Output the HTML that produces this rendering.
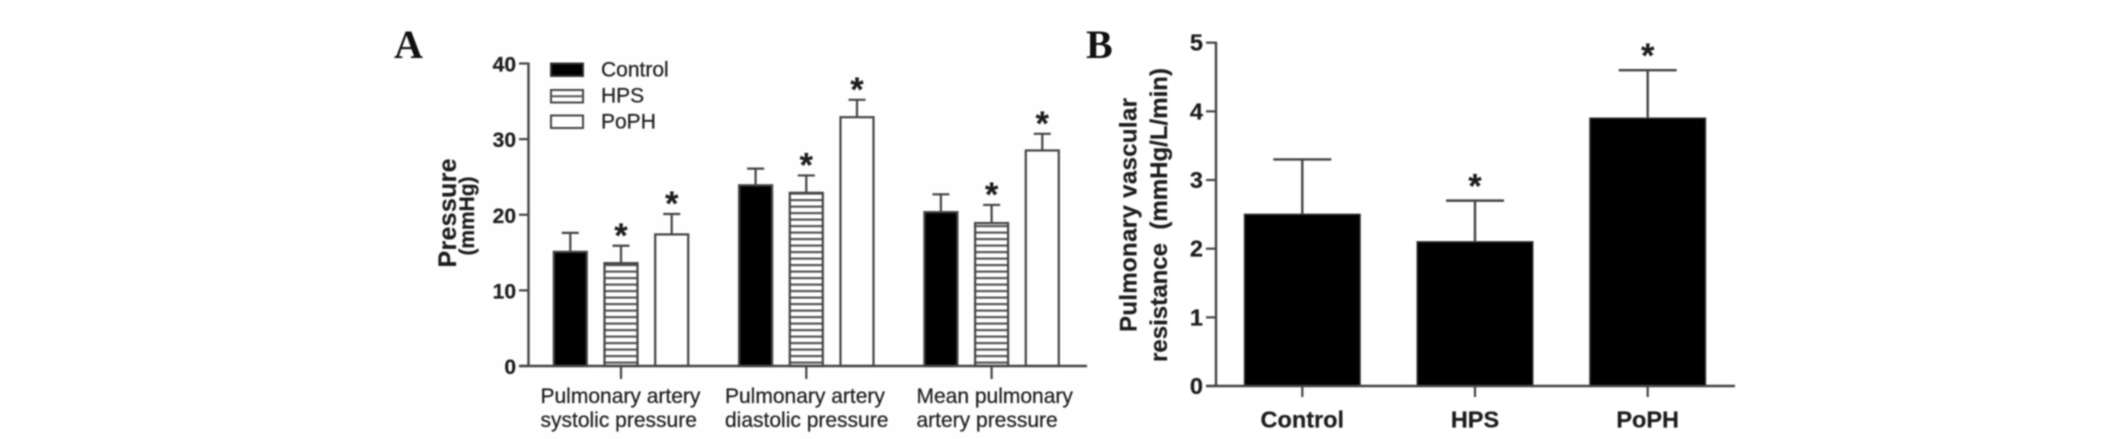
<!DOCTYPE html>
<html>
<head>
<meta charset="utf-8">
<title>Pulmonary pressure and vascular resistance</title>
<style>
  html, body { margin: 0; padding: 0; background: #fff; width: 2126px; height: 439px; overflow: hidden; }
  svg { display: block; filter: blur(0.7px); }
  text { font-family: "Liberation Sans", sans-serif; fill: #1c1c1c; stroke: #333; stroke-width: 0.25px; }
  .bold { font-weight: bold; }
  .serif { font-family: "Liberation Serif", serif; font-weight: bold; fill: #111; stroke: none; }
</style>
</head>
<body>
<svg id="fig" xmlns="http://www.w3.org/2000/svg" width="2126" height="439" viewBox="0 0 2126 439">
  <defs>
    <pattern id="stripes" patternUnits="userSpaceOnUse" x="0" y="366" width="10" height="6.5">
      <rect x="0" y="0" width="10" height="6.5" fill="#fff"/>
      <rect x="0" y="2" width="10" height="2.2" fill="#555"/>
    </pattern>
  </defs>
  <rect x="378" y="24" width="712" height="415" fill="#fefefe"/>
  <text class="serif" x="394" y="58" font-size="40">A</text>
  <text class="serif" x="1086" y="58" font-size="40">B</text>

  <g transform="translate(456,213) rotate(-90)">
    <text class="bold" x="0" y="0" font-size="25" text-anchor="middle" textLength="109">Pressure</text>
  </g>
  <g transform="translate(474,216) rotate(-90)">
    <text class="bold" x="0" y="0" font-size="21" text-anchor="middle" textLength="79">(mmHg)</text>
  </g>
  <g transform="translate(1136.5,215) rotate(-90)">
    <text class="bold" x="0" y="0" font-size="24" text-anchor="middle" textLength="234">Pulmonary vascular</text>
  </g>
  <g transform="translate(1167,215) rotate(-90)">
    <text class="bold" x="0" y="0" font-size="24" text-anchor="middle" textLength="294" xml:space="preserve">resistance  (mmHg/L/min)</text>
  </g>

  <g>
    <rect x="551" y="63.5" width="32" height="12.5" fill="#000" stroke="#333" stroke-width="2"/>
    <text x="601" y="76.7" font-size="21">Control</text>
    <rect x="551" y="90" width="32" height="12.5" fill="#fff" stroke="#444" stroke-width="2"/>
    <line x1="551" x2="583" y1="96.2" y2="96.2" stroke="#555" stroke-width="2"/>
    <text x="601" y="102.7" font-size="21">HPS</text>
    <rect x="551" y="115.5" width="32" height="12.5" fill="#fff" stroke="#444" stroke-width="2"/>
    <text x="601" y="128.3" font-size="21">PoPH</text>
  </g>
</svg>
<script>
// Panel A data
const aGroupLines = [
  ["Pulmonary artery", "systolic pressure"],
  ["Pulmonary artery", "diastolic pressure"],
  ["Mean pulmonary", "artery pressure"]
];
const aSeriesNames = ["control", "hps", "poph"];
const aControl = [15.1, 23.9, 20.35];
const aHps = [13.6, 22.9, 18.9];
const aPoph = [17.4, 32.9, 28.5];
const aControlUpper = [17.6, 26.1, 22.7];
const aHpsUpper = [15.9, 25.2, 21.3];
const aPophUpper = [20.1, 35.2, 30.7];
const aStarred = [false, true, true];
const aTicks = [0, 10, 20, 30, 40];

// Panel B data
const bCategories = ["Control", "HPS", "PoPH"];
const bValues = [2.5, 2.1, 3.9];
const bUpper = [3.3, 2.7, 4.6];
const bStarred = [false, true, true];
const bTicks = [0, 1, 2, 3, 4, 5];

const NS = "http://www.w3.org/2000/svg";
const fig = document.getElementById("fig");
const AXIS_STROKE = "#444";

// Axis functions
function yA(v) { return 366 - v * (366 - 63.5) / 40; }
function xA(group, series) { return 570.3 + group * 185.3 + series * 50.7; }
function groupTickA(group) { return xA(group, 1); }
function yB(v) { return 386 - v * (386 - 42.7) / 5; }
function xB(i) { return 1302.3 + i * 172.7; }

function make(tag, attrs, parent) {
  const el = document.createElementNS(NS, tag);
  for (const k in attrs) el.setAttribute(k, attrs[k]);
  (parent || fig).appendChild(el);
  return el;
}

// ---------- Panel A ----------
const aValues = [aControl, aHps, aPoph];
const aUppers = [aControlUpper, aHpsUpper, aPophUpper];
const aFills = ["#000", "url(#stripes)", "#fff"];
const aW = 33;

aValues.forEach(function (vals, s) {
  vals.forEach(function (v, g) {
    const cx = xA(g, s);
    const top = yA(v);
    const up = yA(aUppers[s][g]);

    const stem = make("line", { x1: cx, x2: cx, y1: top, y2: up, stroke: AXIS_STROKE, "stroke-width": 2.2 });
    
    

    const cap = make("line", { x1: cx - 8.5, x2: cx + 8.5, y1: up, y2: up, stroke: AXIS_STROKE, "stroke-width": 2.2 });
    
    

    const bar = make("rect", { x: cx - aW / 2, y: top, width: aW, height: yA(0) - top, fill: aFills[s], stroke: AXIS_STROKE, "stroke-width": 2.2 });
    
    

    if (aStarred[s]) {
      const star = make("text", { x: cx, y: up + 1, "font-size": 34, "text-anchor": "middle", "class": "bold" });
      star.textContent = "*";
      
      
    }
  });
});

const aYAxis = make("line", { x1: 528.5, x2: 528.5, y1: yA(40) - 1, y2: yA(0), stroke: AXIS_STROKE, "stroke-width": 2.4 });



const aXAxis = make("line", { x1: 519, x2: 1087, y1: yA(0), y2: yA(0), stroke: AXIS_STROKE, "stroke-width": 2.4 });



aTicks.forEach(function (t) {
  const tick = make("line", { x1: 519, x2: 528.5, y1: yA(t), y2: yA(t), stroke: AXIS_STROKE, "stroke-width": 2.2 });
  
  

  const label = make("text", { x: 516, y: yA(t) + 8, "font-size": 21, "text-anchor": "end", "class": "bold" });
  label.textContent = t;
  
  
});

const aLabelLeft = [540.5, 725, 916.5];
aGroupLines.forEach(function (lines, g) {
  const tick = make("line", { x1: groupTickA(g), x2: groupTickA(g), y1: yA(0), y2: yA(0) + 13, stroke: AXIS_STROKE, "stroke-width": 2.2 });
  
  

  lines.forEach(function (line, i) {
    const label = make("text", { x: aLabelLeft[g], y: 403 + i * 24, "font-size": 21 });
    label.textContent = line;
    
    
  });
});

// ---------- Panel B ----------
const bW = 115.5;
bValues.forEach(function (v, i) {
  const cx = xB(i);
  const top = yB(v);
  const up = yB(bUpper[i]);

  const stem = make("line", { x1: cx, x2: cx, y1: top, y2: up, stroke: AXIS_STROKE, "stroke-width": 2.4 });
  
  

  const cap = make("line", { x1: cx - 29, x2: cx + 29, y1: up, y2: up, stroke: AXIS_STROKE, "stroke-width": 2.4 });
  
  

  const bar = make("rect", { x: cx - bW / 2, y: top, width: bW, height: yB(0) - top, fill: "#000", stroke: "#333", "stroke-width": 1.5 });
  
  

  if (bStarred[i]) {
    const star = make("text", { x: cx, y: up - 3, "font-size": 34, "text-anchor": "middle", "class": "bold" });
    star.textContent = "*";
    
    
  }

  const tick = make("line", { x1: cx, x2: cx, y1: yB(0), y2: yB(0) + 11, stroke: AXIS_STROKE, "stroke-width": 2.2 });
  
  

  const label = make("text", { x: cx, y: 427.5, "font-size": 23.5, "text-anchor": "middle", "class": "bold" });
  label.textContent = bCategories[i];
  
  
});

const bYAxis = make("line", { x1: 1216, x2: 1216, y1: yB(5) - 1, y2: yB(0), stroke: AXIS_STROKE, "stroke-width": 2.4 });



const bXAxis = make("line", { x1: 1206, x2: 1735, y1: yB(0), y2: yB(0), stroke: AXIS_STROKE, "stroke-width": 2.4 });



bTicks.forEach(function (t) {
  const tick = make("line", { x1: 1206, x2: 1216, y1: yB(t), y2: yB(t), stroke: AXIS_STROKE, "stroke-width": 2.2 });
  
  

  const label = make("text", { x: 1203, y: yB(t) + 8, "font-size": 23.5, "text-anchor": "end", "class": "bold" });
  label.textContent = t;
  
  
});
</script>
</body>
</html>
